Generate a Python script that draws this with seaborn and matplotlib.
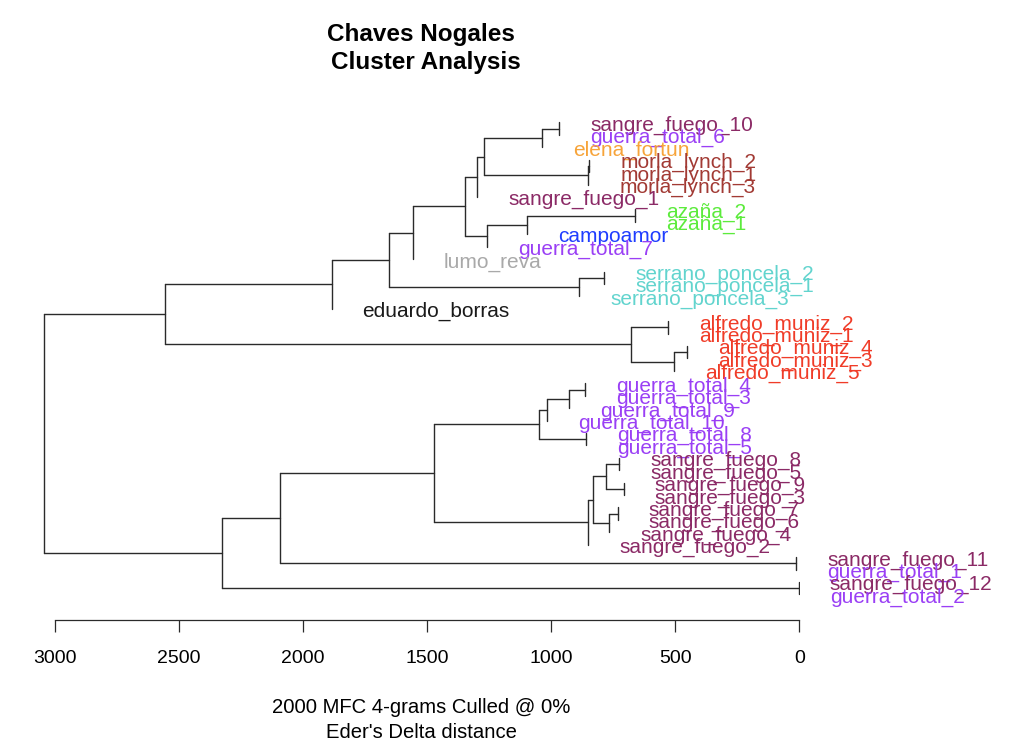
import re
import numpy as np
import pandas as pd
import matplotlib
matplotlib.use("Agg")
import matplotlib.pyplot as plt
import seaborn as sns

# leaves, top to bottom as they appear
leaf_labels = [
    "sangre_fuego_10", "guerra_total_6", "elena_fortun",
    "morla_lynch_2", "morla_lynch_1", "morla_lynch_3", "sangre_fuego_1",
    "azaña_2", "azaña_1", "campoamor", "guerra_total_7", "lumo_reva",
    "serrano_poncela_2", "serrano_poncela_1", "serrano_poncela_3",
    "eduardo_borras",
    "alfredo_muniz_2", "alfredo_muniz_1", "alfredo_muniz_4",
    "alfredo_muniz_3", "alfredo_muniz_5",
    "guerra_total_4", "guerra_total_3", "guerra_total_9", "guerra_total_10",
    "guerra_total_8", "guerra_total_5",
    "sangre_fuego_8", "sangre_fuego_5", "sangre_fuego_9", "sangre_fuego_3",
    "sangre_fuego_7", "sangre_fuego_6", "sangre_fuego_4", "sangre_fuego_2",
    "sangre_fuego_11", "guerra_total_1", "sangre_fuego_12", "guerra_total_2",
]

authors = ["alfredo_muniz", "azaña", "campoamor", "eduardo_borras", "elena_fortun",
           "guerra_total", "lumo_reva", "morla_lynch", "sangre_fuego", "serrano_poncela"]
author_colors = ["#F03C28", "#5CEB3C", "#1F3DFF", "#1A1A1A", "#F7A43A",
                 "#9A3FF5", "#A9A9A9", "#A23A34", "#8B2A66", "#62D4CE"]

# merges (bottom-up): node, left child, right child, Eder's Delta height
merge_nodes = ["n%02d" % k for k in range(1, 39)]
merge_left = ["sangre_fuego_10", "n01", "morla_lynch_2", "n03", "n02", "n05",
              "azaña_2", "n07", "n08", "n06", "n10", "serrano_poncela_2", "n12",
              "n11", "n14", "alfredo_muniz_2", "alfredo_muniz_4", "n17", "n16",
              "n15", "guerra_total_4", "n21", "n22", "guerra_total_8", "n23",
              "sangre_fuego_8", "sangre_fuego_9", "n26", "sangre_fuego_7", "n29",
              "n28", "n31", "n25", "sangre_fuego_11", "n33", "sangre_fuego_12",
              "n35", "n20"]
merge_right = ["guerra_total_6", "elena_fortun", "morla_lynch_1", "morla_lynch_3",
               "n04", "sangre_fuego_1", "azaña_1", "campoamor", "guerra_total_7",
               "n09", "lumo_reva", "serrano_poncela_1", "serrano_poncela_3", "n13",
               "eduardo_borras", "alfredo_muniz_1", "alfredo_muniz_3",
               "alfredo_muniz_5", "n18", "n19", "guerra_total_3", "guerra_total_9",
               "guerra_total_10", "guerra_total_5", "n24", "sangre_fuego_5",
               "sangre_fuego_3", "n27", "sangre_fuego_6", "sangre_fuego_4", "n30",
               "sangre_fuego_2", "n32", "guerra_total_1", "n34", "guerra_total_2",
               "n36", "n37"]
merge_height = [967, 1038, 846, 850, 1271, 1299, 662, 1096, 1260, 1347, 1558,
                787, 887, 1653, 1885, 528, 454, 504, 678, 2557, 864, 927, 1017,
                861, 1048, 726, 707, 780, 732, 766, 830, 851, 1472, 13, 2092, 2,
                2326, 3046]

W, H = 1024, 740

# ---------------------------------------------------------------- layout
ypos = {lab: float(i) for i, lab in enumerate(leaf_labels)}
xpos = {}
segs = []
for k, (nd, l, r, h) in enumerate(zip(merge_nodes, merge_left, merge_right, merge_height)):
    ypos[nd] = (ypos[l] + ypos[r]) / 2.0
    xpos[nd] = h
    for ch in (l, r):
        if ch not in xpos:          # leaf sits at its parent's height
            xpos[ch] = h
    segs.append((f"v{k}", h, ypos[l]))
    segs.append((f"v{k}", h, ypos[r]))
    for ch in (l, r):
        if xpos[ch] != h:
            segs.append((f"h{k}{ch}", h, ypos[ch]))
            segs.append((f"h{k}{ch}", xpos[ch], ypos[ch]))

seg_df = pd.DataFrame(segs, columns=["seg", "x", "y"])

sns.set_theme(style="white")
plt.rcParams["font.family"] = ["Liberation Sans", "DejaVu Sans"]

fig = plt.figure(figsize=(W / 100, H / 100), dpi=100)
ax = fig.add_axes([40 / W, 1 - 620 / H, 760 / W, 510 / H])

sns.lineplot(data=seg_df, x="x", y="y", units="seg", estimator=None, sort=False,
             color="#2A2A2A", linewidth=1.0, ax=ax)

col_of = dict(zip(authors, author_colors))
for lab in leaf_labels:
    auth = re.sub(r"_\d+$", "", lab)
    ax.annotate(lab, xy=(xpos[lab], ypos[lab]), xytext=(22.3, -5.9),
                textcoords="offset points", ha="left", va="baseline",
                fontsize=15, color=col_of[auth], annotation_clip=False)

ax.set_xlim(3060.5, -2.8)
ax.set_ylim(40.06, -1.006)
for s in ["top", "right", "left"]:
    ax.spines[s].set_visible(False)
ax.spines["bottom"].set_bounds(0, 3000)
ax.spines["bottom"].set_color("#2A2A2A")
ax.spines["bottom"].set_linewidth(0.9)
ax.set_xticks(np.arange(0, 3001, 500))
ax.set_yticks([])
ax.tick_params(axis="x", bottom=True, direction="out", length=8.6, width=0.9,
               color="#2A2A2A", pad=13, labelsize=14, labelcolor="black")
ax.set_xlabel("")
ax.set_ylabel("")
ax.grid(False)

def fy(px):
    return 1 - px / H

fig.text(421 / W, fy(41.5), "Chaves Nogales", ha="center", va="baseline",
         fontsize=17.5, fontweight="bold", color="black")
fig.text(426 / W, fy(69.5), "Cluster Analysis", ha="center", va="baseline",
         fontsize=17.5, fontweight="bold", color="black")
fig.text(421 / W, fy(713.3), "2000 MFC 4-grams Culled @ 0%", ha="center",
         va="baseline", fontsize=14.6, color="black")
fig.text(421 / W, fy(737.5), "Eder's Delta distance", ha="center",
         va="baseline", fontsize=14.6, color="black")

fig.savefig("out.png", dpi=100, facecolor="white")
